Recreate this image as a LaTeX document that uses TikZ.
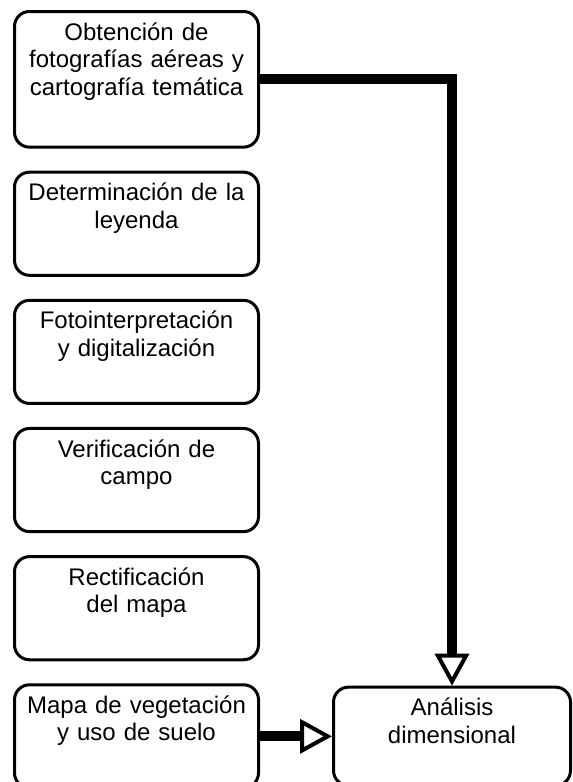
\documentclass[tikz,border=0pt]{standalone}
\usepackage{fontspec}
\setmainfont{Liberation Sans}
\usetikzlibrary{arrows.meta,positioning}
\newcommand{\hueco}[1][30pt]{\rule{0pt}{#1}}

\begin{document}
\begin{tikzpicture}[x=1pt,y=-1pt,node distance=22pt,>={Triangle[open,fill=white,length=32pt,width=34pt,line width=4pt]}]
  \tikzstyle{caja}=[draw=black,line width=3pt,rounded corners=15pt,text width=230pt,minimum width=244pt,align=center,inner xsep=7pt,inner ysep=11pt,font=\fontsize{24}{27.5}\selectfont]
  \tikzstyle{flecha}=[->,line width=10pt]

  \useasboundingbox (0,0) rectangle (573,782);

  \node[caja,anchor=north west] (b1) at (13,10) {Obtención de\\fotografías aéreas y\\cartografía temática\\\hueco[35pt]};
  \node[caja] (b2) [below=of b1] {Determinación de la\\leyenda\\\hueco};
  \node[caja] (b3) [below=of b2] {Fotointerpretación\\y digitalización\\\hueco};
  \node[caja] (b4) [below=of b3] {Verificación de\\campo\\\hueco};
  \node[caja] (b5) [below=of b4] {Rectificación\\del mapa\\\hueco};
  \node[caja] (b6) [below=of b5] {Mapa de vegetación\\y uso de suelo\\\hueco};
  \node[caja,text width=221pt,minimum width=237pt] (b7) [right=72pt of b6] {Análisis\\dimensional\\\hueco};

  \draw[flecha] (b1.east) -| (b7.north);
  \draw[flecha] (b6.east) -- (b7.west);
\end{tikzpicture}
\end{document}
